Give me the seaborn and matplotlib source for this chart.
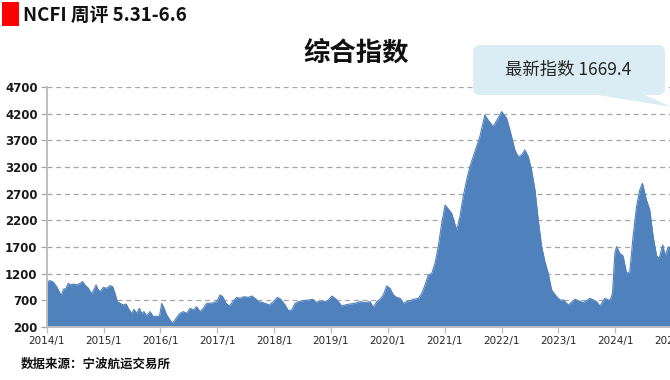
import matplotlib
matplotlib.use("Agg")
import matplotlib.pyplot as plt
from matplotlib.patches import FancyBboxPatch, Polygon, Rectangle
import seaborn as sns
import pandas as pd

# ---------------- data ----------------
dates = [
    "2014-01-01", "2014-01-05", "2014-01-22", "2014-02-12", "2014-03-06", "2014-03-28",
    "2014-04-07", "2014-04-18", "2014-05-05", "2014-05-20", "2014-06-04", "2014-06-21",
    "2014-07-13", "2014-08-03", "2014-08-20", "2014-09-04", "2014-09-26", "2014-10-17",
    "2014-11-01", "2014-11-14", "2014-11-29", "2014-12-10", "2014-12-31", "2015-01-21",
    "2015-02-12", "2015-03-01", "2015-03-16", "2015-03-31", "2015-04-17", "2015-05-08",
    "2015-05-26", "2015-06-16", "2015-07-01", "2015-07-16", "2015-08-02", "2015-08-19",
    "2015-09-03", "2015-09-18", "2015-10-05", "2015-10-27", "2015-11-17", "2015-12-09",
    "2015-12-26", "2016-01-10", "2016-01-25", "2016-02-11", "2016-03-03", "2016-03-20",
    "2016-04-04", "2016-04-19", "2016-05-06", "2016-05-28", "2016-06-18", "2016-07-10",
    "2016-07-31", "2016-08-21", "2016-09-12", "2016-10-03", "2016-10-25", "2016-11-15",
    "2016-12-07", "2016-12-28", "2017-01-18", "2017-02-04", "2017-02-26", "2017-03-19",
    "2017-04-10", "2017-05-05", "2017-05-27", "2017-06-21", "2017-07-19", "2017-08-10",
    "2017-08-31", "2017-09-22", "2017-10-13", "2017-11-03", "2017-12-01", "2017-12-27",
    "2018-01-22", "2018-02-12", "2018-03-12", "2018-04-02", "2018-04-24", "2018-05-15",
    "2018-06-05", "2018-07-08", "2018-08-09", "2018-09-06", "2018-09-27", "2018-10-23",
    "2018-11-24", "2018-12-15", "2019-01-06", "2019-01-27", "2019-02-17", "2019-03-11",
    "2019-04-01", "2019-05-03", "2019-06-04", "2019-07-07", "2019-08-08", "2019-09-09",
    "2019-09-30", "2019-10-22", "2019-11-12", "2019-12-03", "2019-12-25", "2020-01-15",
    "2020-02-06", "2020-02-27", "2020-03-20", "2020-04-10", "2020-05-01", "2020-05-23",
    "2020-06-13", "2020-07-15", "2020-08-06", "2020-08-27", "2020-09-17", "2020-10-09",
    "2020-10-30", "2020-11-20", "2020-12-12", "2021-01-03", "2021-02-14", "2021-03-18",
    "2021-04-08", "2021-04-29", "2021-05-21", "2021-06-11", "2021-07-13", "2021-08-14",
    "2021-09-15", "2021-10-06", "2021-11-07", "2021-12-09", "2022-01-01", "2022-02-02",
    "2022-02-23", "2022-03-27", "2022-04-17", "2022-05-09", "2022-05-30", "2022-06-21",
    "2022-07-12", "2022-08-03", "2022-08-24", "2022-09-15", "2022-10-06", "2022-10-27",
    "2022-11-18", "2022-12-20", "2023-01-11", "2023-02-01", "2023-03-05", "2023-04-17",
    "2023-06-09", "2023-07-22", "2023-09-03", "2023-09-24", "2023-10-26", "2023-11-27",
    "2023-12-14", "2023-12-29", "2024-01-09", "2024-01-30", "2024-02-20", "2024-03-13",
    "2024-04-03", "2024-04-24", "2024-05-16", "2024-06-06", "2024-06-23", "2024-07-19",
    "2024-08-09", "2024-08-31", "2024-09-22", "2024-10-09", "2024-10-31", "2024-11-17",
    "2024-12-06", "2024-12-27", "2025-01-17", "2025-02-14", "2025-03-14", "2025-04-11",
    "2025-05-09", "2025-05-30", "2025-06-06",
]
values = [
    980, 1050, 1069, 1044, 956, 831,
    800, 906, 925, 1019, 988, 1006,
    988, 1019, 1050, 988, 925, 819,
    906, 988, 894, 863, 944, 925,
    975, 956, 831, 675, 644, 613,
    631, 519, 456, 531, 456, 550,
    456, 488, 406, 488, 394, 406,
    394, 644, 550, 425, 331, 269,
    331, 394, 456, 488, 456, 550,
    519, 581, 488, 550, 644, 644,
    656, 675, 800, 769, 644, 594,
    675, 756, 738, 769, 756, 781,
    738, 675, 663, 644, 613, 675,
    756, 719, 613, 506, 519, 644,
    675, 694, 706, 719, 663, 688,
    675, 706, 781, 738, 675, 594,
    613, 631, 644, 675, 656, 675,
    569, 675, 719, 800, 969, 925,
    800, 756, 738, 644, 675, 694,
    719, 738, 831, 988, 1175, 1206,
    1394, 1706, 2144, 2488, 2331, 2019,
    2269, 2644, 2956, 3206, 3488, 3769,
    4175, 4081, 3956, 4113, 4238, 4113,
    3894, 3519, 3394, 3425, 3519, 3394,
    3144, 2769, 2206, 1706, 1425, 1206,
    894, 769, 706, 706, 613, 719,
    656, 738, 675, 594, 738, 694,
    831, 1581, 1706, 1581, 1531, 1206,
    1237, 1894, 2456, 2769, 2894, 2581,
    2394, 1894, 1531, 1488, 1738, 1531,
    1706, 1650, 1800, 1300, 1100, 1050,
    1150, 1750, 1669.4,
]
y_ticks = [200, 700, 1200, 1700, 2200, 2700, 3200, 3700, 4200, 4700]
x_tick_dates = ["2014-01-01", "2015-01-01", "2016-01-01", "2017-01-01", "2018-01-01",
                "2019-01-01", "2020-01-01", "2021-01-01", "2022-01-01", "2023-01-01",
                "2024-01-01", "2025-01-01"]
x_tick_labels = ["2014/1", "2015/1", "2016/1", "2017/1", "2018/1", "2019/1",
                 "2020/1", "2021/1", "2022/1", "2023/1", "2024/1", "2025/1"]
header_text = "NCFI 周评 5.31-6.6"
title_text = "综合指数"
latest_text = "最新指数 1669.4"
source_text = "数据来源：宁波航运交易所"

# ---------------- style ----------------
sns.set_theme(style="white")
plt.rcParams['font.family'] = ['Noto Sans CJK SC', 'DejaVu Sans']

W, H = 670, 380
fig = plt.figure(figsize=(W / 100, H / 100), dpi=100)
fig.patch.set_facecolor("white")

BLUE = "#4f81bd"
GRID = "#a6a6a6"
AXIS = "#bfbfbf"

# plot area (extends past the right edge of the figure like the reference)
ax_left, ax_right, ax_top, ax_bottom = 46.67, 696.6, 87, 327
ax = fig.add_axes([ax_left / W, (H - ax_bottom) / H,
                   (ax_right - ax_left) / W, (ax_bottom - ax_top) / H])
ax.set_facecolor("none")

df = pd.DataFrame({"date": pd.to_datetime(dates), "value": values})
ax.fill_between(df["date"], 200, df["value"], color=BLUE, lw=0, zorder=2)
sns.lineplot(data=df, x="date", y="value", ax=ax, color=BLUE, lw=0.8, zorder=3)

ax.set_xlim(pd.Timestamp("2014-01-01"), pd.Timestamp("2025-06-06"))
ax.set_ylim(200, 4700)
ax.set_yticks(y_ticks)
ax.set_yticklabels([str(v) for v in y_ticks], fontweight="bold", fontsize=8.5,
                   family=["DejaVu Sans"], color="#1a1a1a")
ax.set_xticks(pd.to_datetime(x_tick_dates))
ax.set_xticklabels(x_tick_labels, fontsize=7.5, family=["DejaVu Sans"], color="#262626")
ax.set_xlabel("")
ax.set_ylabel("")

ax.yaxis.grid(True, linestyle=(0, (4, 3)), color=GRID, lw=0.9, zorder=0)
ax.xaxis.grid(False)
ax.set_axisbelow(True)

for s in ["top", "right"]:
    ax.spines[s].set_visible(False)
for s in ["left", "bottom"]:
    ax.spines[s].set_visible(True)
    ax.spines[s].set_color(AXIS)
    ax.spines[s].set_linewidth(1.4)
    ax.spines[s].set_zorder(4)

ax.tick_params(axis="y", which="major", direction="out", length=4, width=0.9,
               color=GRID, pad=2.5, left=True)
ax.tick_params(axis="x", which="major", direction="out", length=4, width=0.9,
               color=AXIS, pad=2.5, bottom=True)

# ---------------- overlay in pixel coordinates ----------------
ov = fig.add_axes([0, 0, 1, 1], zorder=10)
ov.set_xlim(0, W)
ov.set_ylim(H, 0)
ov.axis("off")
ov.set_facecolor("none")

# header
ov.add_patch(Rectangle((2, 2), 17, 24, facecolor="#ff0000", edgecolor="none"))
ov.text(23, 15, header_text, fontsize=13.5, fontweight="bold", color="#111111",
        ha="left", va="center")

# title
ov.text(356, 53, title_text, fontsize=19, fontweight="bold", color="#111111",
        ha="center", va="center")

# callout
CALL = "#daedf4"
ov.add_patch(Polygon([(585, 93), (640, 93), (672, 107)], closed=True,
                     facecolor=CALL, edgecolor="none"))
ov.add_patch(FancyBboxPatch((473, 45), 192, 50,
                            boxstyle="round,pad=0,rounding_size=7",
                            facecolor=CALL, edgecolor="none"))
ov.text(568, 70, latest_text, fontsize=12.5, color="#262626",
        ha="center", va="center")

# source
ov.text(21, 364, source_text, fontsize=9, fontweight="bold", color="#111111",
        ha="left", va="center")

fig.savefig("out.png", dpi=100)
